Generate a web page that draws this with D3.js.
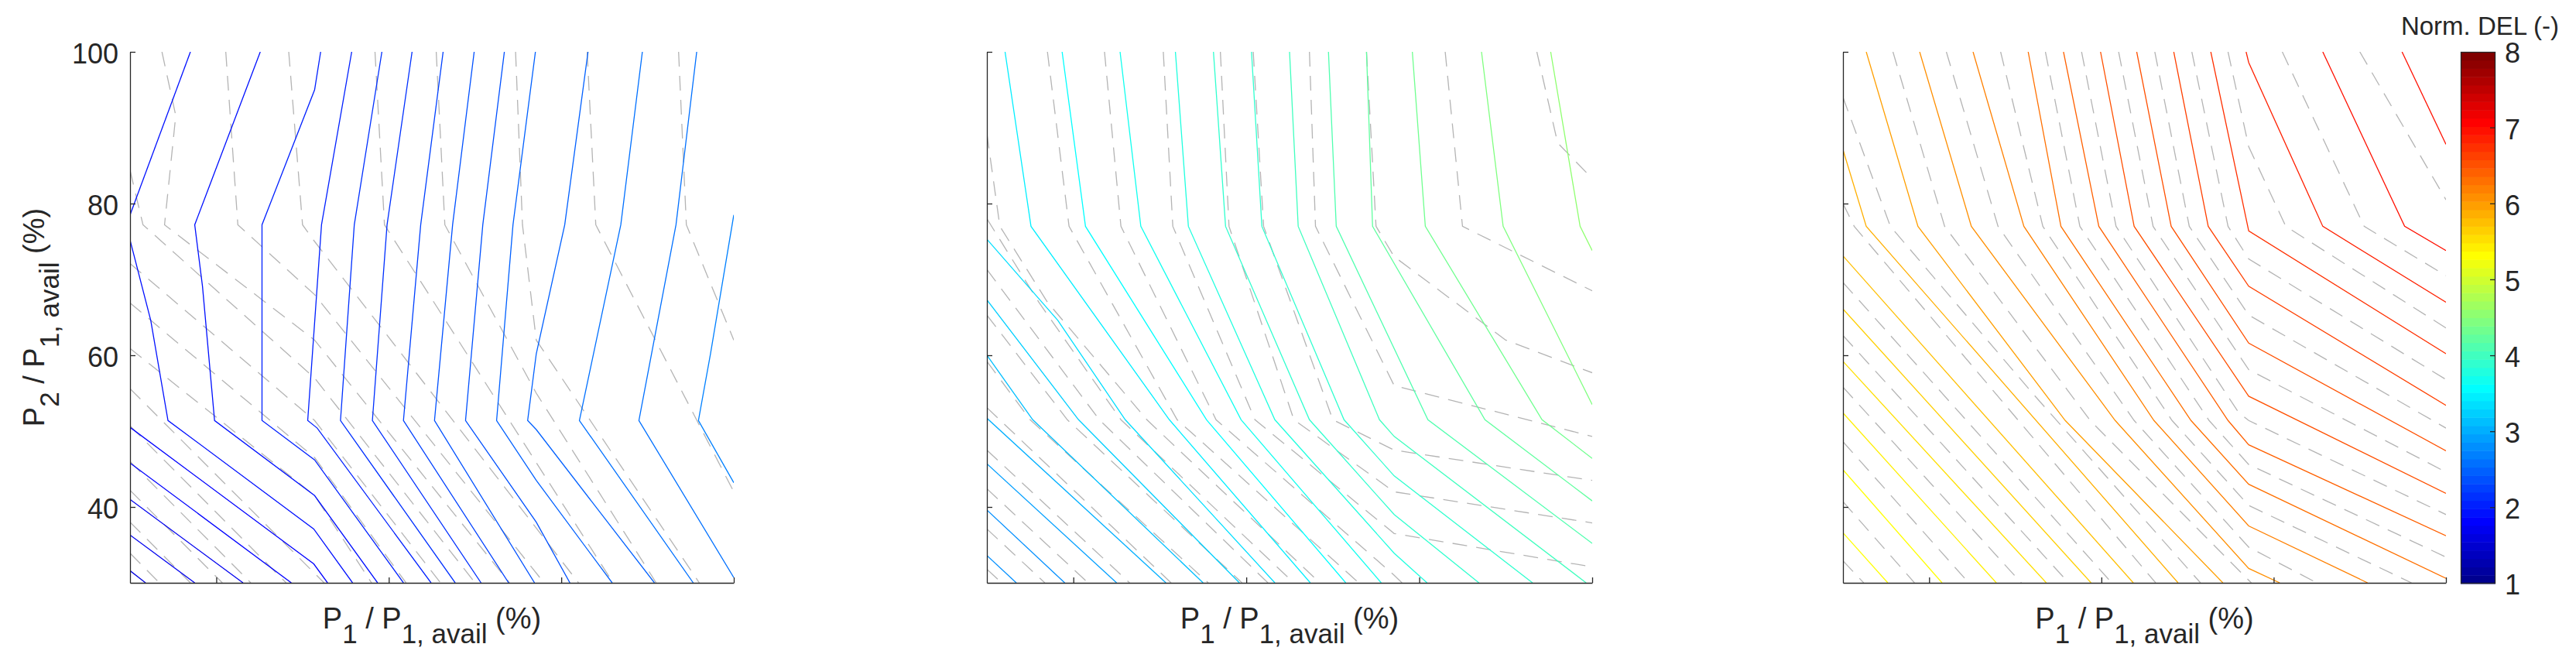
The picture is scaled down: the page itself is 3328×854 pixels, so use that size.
<!DOCTYPE html>
<html>
<head>
<meta charset="utf-8">
<script src="https://cdn.jsdelivr.net/npm/d3@7/dist/d3.min.js"></script>
<style>
  body { margin: 0; background: #fff; }
  svg text { font-family: "Liberation Sans", Arial, Helvetica, sans-serif; fill: #262626; }
</style>
</head>
<body>
<svg id="chart" width="3328" height="854"></svg>
<script>
// axis ticks
const xTicks = [40, 60, 80, 100];
const yTicks = [40, 60, 80, 100];
const cbTicks = [1, 2, 3, 4, 5, 6, 7, 8];
const cLim = [1, 8];

// panel 1: contour levels and lines [P1, P2] in %
const levels1 = [1.6, 1.66, 1.72, 1.78, 1.84, 1.9, 1.9, 1.96, 2.02, 2.08, 2.14, 2.2, 2.26, 2.32, 2.38, 2.44, 2.5, 2.56, 2.62, 2.68];
const lines1 = [
  [[30, 31.6], [31.8, 30]],
  [[30, 36.3], [37.5, 30]],
  [[30, 41.0], [43.1, 30]],
  [[30, 45.8], [48.7, 30]],
  [[30, 50.5], [51.3, 32.5], [52.9, 30]],
  [[37.0, 100], [30, 78.5]],
  [[30, 75.2], [32.4, 64.6], [34.4, 51.4], [51.3, 37.1], [55.8, 30]],
  [[45.1, 100], [37.5, 77.2], [38.4, 69.1], [39.8, 51.4], [51.4, 41.5], [58.7, 30]],
  [[52.1, 100], [51.4, 95], [45.3, 77.2], [45.3, 51.4], [51.4, 46.2], [61.7, 30]],
  [[55.7, 100], [52.2, 77.2], [50.6, 51.4], [51.7, 50.4], [64.9, 30]],
  [[59.2, 100], [56.0, 77.2], [54.4, 51.4], [67.7, 30]],
  [[62.7, 100], [59.8, 77.2], [58.1, 51.4], [70.7, 30]],
  [[66.3, 100], [63.7, 77.2], [61.7, 51.4], [73.9, 30]],
  [[69.9, 100], [67.4, 77.2], [65.3, 51.4], [76.9, 30]],
  [[73.4, 100], [70.9, 77.2], [68.9, 51.4], [77.1, 38], [81.0, 30]],
  [[77.0, 100], [74.4, 77.2], [72.5, 51.4], [77.1, 43.5], [85.9, 30]],
  [[83.1, 100], [80.4, 77.2], [77.1, 60.2], [76.1, 51.4], [77.1, 50.2], [90.8, 30]],
  [[89.4, 100], [86.9, 77.2], [82.1, 51.4], [95.3, 30]],
  [[95.7, 100], [93.3, 77.2], [89.0, 51.4], [100, 30.7]],
  [[100, 78.5], [97.3, 60.2], [95.9, 51.4], [100, 43.2]]
];
const dashed1 = [
  [[30, 33.9], [33.4, 30]],
  [[30, 38.0], [37.0, 30]],
  [[30, 42.2], [40.7, 30]],
  [[30, 46.0], [44.0, 30]],
  [[30, 50.7], [48.1, 30]],
  [[30, 55.6], [52.5, 30]],
  [[30, 60.9], [51.4, 41.5], [58, 30]],
  [[30, 66.9], [51.4, 46.5], [62, 30]],
  [[30, 72.1], [51.4, 51.4], [66, 30]],
  [[30, 84.4], [31.5, 77.2], [51.4, 57], [70, 30]],
  [[33.7, 100], [35.3, 91.6], [34, 77.2], [51.4, 62], [74, 30]],
  [[41.1, 100], [42.5, 77.2], [51.4, 68], [78, 30]],
  [[48.4, 100], [50, 77.2], [51.4, 75], [82, 30]],
  [[58.4, 100], [59.5, 77.2], [86, 30]],
  [[65.5, 100], [66.5, 77.2], [77.1, 55], [91, 30]],
  [[74.7, 100], [75.5, 77.2], [77.1, 62], [96, 30]],
  [[83.0, 100], [84, 77.2], [100, 42]],
  [[93.6, 100], [94.5, 77.2], [100, 62]]
];

// panel 2
const levels2 = [2.75, 2.85, 2.95, 3.05, 3.15, 3.25, 3.35, 3.45, 3.55, 3.65, 3.75, 3.85, 3.95, 4.05, 4.15, 4.25, 4.35, 4.45, 4.5];
const lines2 = [
  [[30, 33.6], [33.4, 30]],
  [[30, 39.6], [39.0, 30]],
  [[30, 45.7], [45.0, 30]],
  [[30, 51.7], [50.7, 30]],
  [[30, 60.0], [35.3, 51.5], [55.0, 30]],
  [[30, 67.3], [40.6, 51.5], [59.2, 30]],
  [[30, 75.3], [38.2, 64.6], [46.0, 51.5], [63.3, 30]],
  [[32.1, 100], [35.1, 77.0], [51.1, 51.5], [67.4, 30]],
  [[38.7, 100], [41.4, 77.0], [55.4, 51.5], [71.5, 30]],
  [[45.4, 100], [47.8, 77.0], [59.4, 51.5], [75.6, 30]],
  [[51.8, 100], [53.3, 77.0], [63.3, 51.5], [77.1, 33.9], [80.9, 30]],
  [[56.2, 100], [57.6, 77.0], [67.3, 51.5], [77.1, 39.0], [86.9, 30]],
  [[60.6, 100], [61.8, 77.0], [71.3, 51.5], [77.1, 44.1], [93.1, 30]],
  [[65.0, 100], [66.0, 77.0], [75.4, 51.5], [77.1, 49.3], [99.3, 30]],
  [[69.5, 100], [70.4, 77.0], [81.0, 51.5], [100, 35.2]],
  [[73.9, 100], [74.6, 77.0], [87.6, 51.5], [100, 40.8]],
  [[79.2, 100], [80.7, 77.0], [94.2, 51.5], [100, 46.4]],
  [[87.2, 100], [89.7, 77.0], [100, 53.5]],
  [[95.2, 100], [98.6, 77.0], [100, 73.8]]
];
const dashed2 = [
  [[30, 31.8], [31.7, 30]],
  [[30, 37.1], [36.7, 30]],
  [[30, 42.4], [41.7, 30]],
  [[30, 47.5], [46.5, 30]],
  [[30, 53.1], [51.3, 30]],
  [[30, 59.2], [35, 51.5], [55.6, 30]],
  [[30, 65.3], [39.3, 51.5], [59.5, 30]],
  [[30, 71.3], [43, 51.5], [62.5, 30]],
  [[30, 78], [36, 67], [45.5, 51.5], [65.5, 30]],
  [[30, 89.2], [31.5, 77], [37, 67], [48.5, 51.5], [68.5, 30]],
  [[37, 100], [39.5, 77], [52, 51.5], [73, 30]],
  [[43.6, 100], [45.5, 77], [56.5, 51.5], [77.1, 31], [78, 30]],
  [[50.4, 100], [51.5, 77], [61, 51.5], [77.1, 36.5], [100, 32.1]],
  [[57, 100], [58, 77], [65.5, 51.5], [77.1, 42], [100, 37.9]],
  [[60.8, 100], [62, 77], [70, 51.5], [77.1, 47.5], [100, 43.5]],
  [[67.3, 100], [68, 77], [77.1, 56], [100, 49.3]],
  [[73.9, 100], [75, 77], [77.1, 73], [90, 62], [100, 57.7]],
  [[83, 100], [85, 77], [100, 68.5]],
  [[93.6, 100], [96, 88], [100, 83.3]]
];

// panel 3
const levels3 = [5.27, 5.37, 5.47, 5.57, 5.67, 5.77, 5.87, 5.97, 6.07, 6.17, 6.27, 6.37, 6.47, 6.57, 6.67, 6.77, 6.87, 6.95, 7.0];
const lines3 = [
  [[30, 36.6], [35.2, 30]],
  [[30, 44.9], [41.5, 30]],
  [[30, 52.4], [47.8, 30]],
  [[30, 59.2], [53.6, 30]],
  [[30, 66.1], [58.8, 30]],
  [[30, 73.1], [63.7, 30]],
  [[30, 87.1], [32.7, 77.0], [68.9, 30]],
  [[32.7, 100], [38.7, 77.0], [55.8, 51.4], [74.1, 30]],
  [[38.9, 100], [44.9, 77.0], [61.6, 51.4], [77.1, 31.9], [80.7, 30]],
  [[45.1, 100], [51.0, 77.0], [66.1, 51.4], [77.1, 37.5], [90.9, 30]],
  [[51.5, 100], [55.3, 77.0], [70.4, 51.4], [77.1, 43.0], [100, 30.6]],
  [[55.6, 100], [59.7, 77.0], [74.7, 51.4], [77.1, 48.2], [100, 36.2]],
  [[59.9, 100], [63.8, 77.0], [77.1, 54.6], [100, 41.8]],
  [[64.1, 100], [68.1, 77.0], [77.1, 61.6], [100, 47.4]],
  [[68.4, 100], [72.4, 77.0], [77.1, 69.1], [100, 53.4]],
  [[72.7, 100], [77.1, 76.4], [100, 60.2]],
  [[76.8, 100], [77.1, 98.6], [85.7, 77.0], [100, 67.0]],
  [[85.7, 100], [95.2, 77.0], [100, 73.8]],
  [[94.9, 100], [100, 87.8]]
];
const dashed3 = [
  [[30, 32.9], [32.4, 30]],
  [[30, 40.7], [38.3, 30]],
  [[30, 48.6], [44.6, 30]],
  [[30, 55.8], [50.7, 30]],
  [[30, 62.6], [56.2, 30]],
  [[30, 69.6], [61.2, 30]],
  [[30, 80], [31.3, 77], [66.3, 30]],
  [[30, 94], [35.5, 77], [52, 55], [71.5, 30]],
  [[35.8, 100], [41.8, 77], [58.7, 51.4], [77.4, 30]],
  [[42, 100], [48, 77], [63.8, 51.4], [77.1, 34.7], [85, 30]],
  [[48.3, 100], [53.2, 77], [68.2, 51.4], [77.1, 40.2], [96, 30]],
  [[53.5, 100], [57.5, 77], [72.5, 51.4], [77.1, 45.6], [100, 33.4]],
  [[57.7, 100], [61.7, 77], [75.9, 52.5], [77.1, 51.4], [100, 39]],
  [[62, 100], [66, 77], [77.1, 58.1], [100, 44.6]],
  [[66.2, 100], [70.2, 77], [77.1, 65.3], [100, 50.4]],
  [[70.5, 100], [74.7, 77], [77.1, 72.7], [100, 56.8]],
  [[74.7, 100], [77.1, 87.5], [81.4, 77], [100, 63.6]],
  [[81, 100], [90.5, 77], [100, 70.5]],
  [[90, 100], [100, 80.5]]
];

// ---- drawing ----
const svg = d3.select("#chart");
const plotTop = 67, plotBottom = 753;
const axisColor = "#262626";

// MATLAB style jet(64)
function jetColor(i) { // i = 1..64
  const u = k => (k >= 1 && k <= 16) ? k / 16 : (k <= 31 ? 1 : (k <= 47 ? (48 - k) / 16 : 0));
  const r = i >= 25 ? u(i - 24) : 0;
  const g = (i >= 9 && i <= 55) ? u(i - 8) : 0;
  const b = i <= 39 ? u(i + 8) : 0;
  return d3.rgb(r * 255, g * 255, b * 255).formatHex();
}
const jet64 = d3.range(1, 65).map(jetColor);
const levelColor = v => {
  const idx = Math.max(1, Math.min(64, Math.floor((v - cLim[0]) / (cLim[1] - cLim[0]) * 64) + 1));
  return jet64[idx - 1];
};

const panels = [
  { left: 168, right: 948, levels: levels1, lines: lines1, dashed: dashed1, labels: true },
  { left: 1275, right: 2057, levels: levels2, lines: lines2, dashed: dashed2, labels: false },
  { left: 2381, right: 3160, levels: levels3, lines: lines3, dashed: dashed3, labels: false }
];

function subLabel(sel, parts) {
  // parts: [text, isSub]
  let sub = false;
  parts.forEach(([t, s]) => {
    const ts = sel.append("tspan").text(t);
    if (s && !sub) ts.attr("dy", 19);
    if (!s && sub) ts.attr("dy", -19);
    if (s) ts.attr("font-size", 35);
    sub = s;
  });
}
const xLabelParts = [["P", false], ["1", true], [" / P", false], ["1, avail", true], [" (%)", false]];
const yLabelParts = [["P", false], ["2", true], [" / P", false], ["1, avail", true], [" (%)", false]];

panels.forEach((p, pi) => {
  const x = d3.scaleLinear().domain([30, 100]).range([p.left, p.right]);
  const y = d3.scaleLinear().domain([30, 100]).range([plotBottom, plotTop]);
  const line = d3.line().x(d => x(d[0])).y(d => y(d[1]));
  const g = svg.append("g");

  g.append("clipPath").attr("id", "clip" + pi)
    .append("rect").attr("x", p.left).attr("y", plotTop)
    .attr("width", p.right - p.left).attr("height", plotBottom - plotTop);

  const plot = g.append("g").attr("clip-path", `url(#clip${pi})`);

  plot.selectAll("path.dash").data(p.dashed).join("path")
    .attr("class", "dash")
    .attr("d", line)
    .attr("fill", "none")
    .attr("stroke", "#b4b4b4")
    .attr("stroke-width", 1.3)
    .attr("stroke-dasharray", "19,12");

  plot.selectAll("path.lvl").data(p.lines).join("path")
    .attr("class", "lvl")
    .attr("d", line)
    .attr("fill", "none")
    .attr("stroke", (d, i) => levelColor(p.levels[i]))
    .attr("stroke-width", 1.3);

  const xa = g.append("g").attr("transform", `translate(0,${plotBottom})`)
    .call(d3.axisBottom(x).tickValues(xTicks).tickSizeInner(-7).tickSizeOuter(0).tickFormat(""));
  const ya = g.append("g").attr("transform", `translate(${p.left},0)`)
    .call(d3.axisLeft(y).tickValues(yTicks).tickSizeInner(-7).tickSizeOuter(0).tickPadding(15)
      .tickFormat(p.labels ? d3.format("d") : ""));
  [xa, ya].forEach(a => {
    a.selectAll("path, line").attr("stroke", axisColor).attr("stroke-width", 1.3);
  });
  ya.selectAll("text").attr("font-size", 36).attr("dy", "0.4em").attr("fill", axisColor)
    .attr("font-family", '"Liberation Sans", Arial, sans-serif');

  const xl = g.append("text")
    .attr("x", (p.left + p.right) / 2).attr("y", 812)
    .attr("text-anchor", "middle").attr("font-size", 38);
  subLabel(xl, xLabelParts);

  if (p.labels) {
    const yl = g.append("text")
      .attr("transform", `translate(57,${(plotTop + plotBottom) / 2}) rotate(-90)`)
      .attr("text-anchor", "middle").attr("font-size", 38);
    subLabel(yl, yLabelParts);
  }
});

// colorbar
const cbLeft = 3179, cbRight = 3224, cbTop = 67, cbBottom = 754;
const cy = d3.scaleLinear().domain(cLim).range([cbBottom, cbTop]);
const cb = svg.append("g");
const bandH = (cbBottom - cbTop) / 64;
cb.selectAll("rect.band").data(jet64).join("rect")
  .attr("class", "band")
  .attr("x", cbLeft).attr("width", cbRight - cbLeft)
  .attr("y", (d, i) => cbBottom - (i + 1) * bandH)
  .attr("height", bandH + 0.5)
  .attr("fill", d => d);
cb.append("rect").attr("x", cbLeft + 0.5).attr("y", cbTop + 0.5)
  .attr("width", cbRight - cbLeft - 1).attr("height", cbBottom - cbTop - 1)
  .attr("fill", "none").attr("stroke", axisColor).attr("stroke-width", 1.3);
cb.selectAll("line.tk").data(cbTicks.slice(1, -1)).join("line")
  .attr("class", "tk")
  .attr("x1", cbRight - 7).attr("x2", cbRight)
  .attr("y1", d => cy(d)).attr("y2", d => cy(d))
  .attr("stroke", axisColor).attr("stroke-width", 1.3);
cb.selectAll("text.tl").data(cbTicks).join("text")
  .attr("class", "tl")
  .attr("x", 3236).attr("y", d => cy(d)).attr("dy", "0.4em")
  .attr("font-size", 36)
  .text(d => d);
cb.append("text").attr("x", 3204).attr("y", 45)
  .attr("text-anchor", "middle").attr("font-size", 33).attr("fill", "#000")
  .text("Norm. DEL (-)");
</script>
</body>
</html>
